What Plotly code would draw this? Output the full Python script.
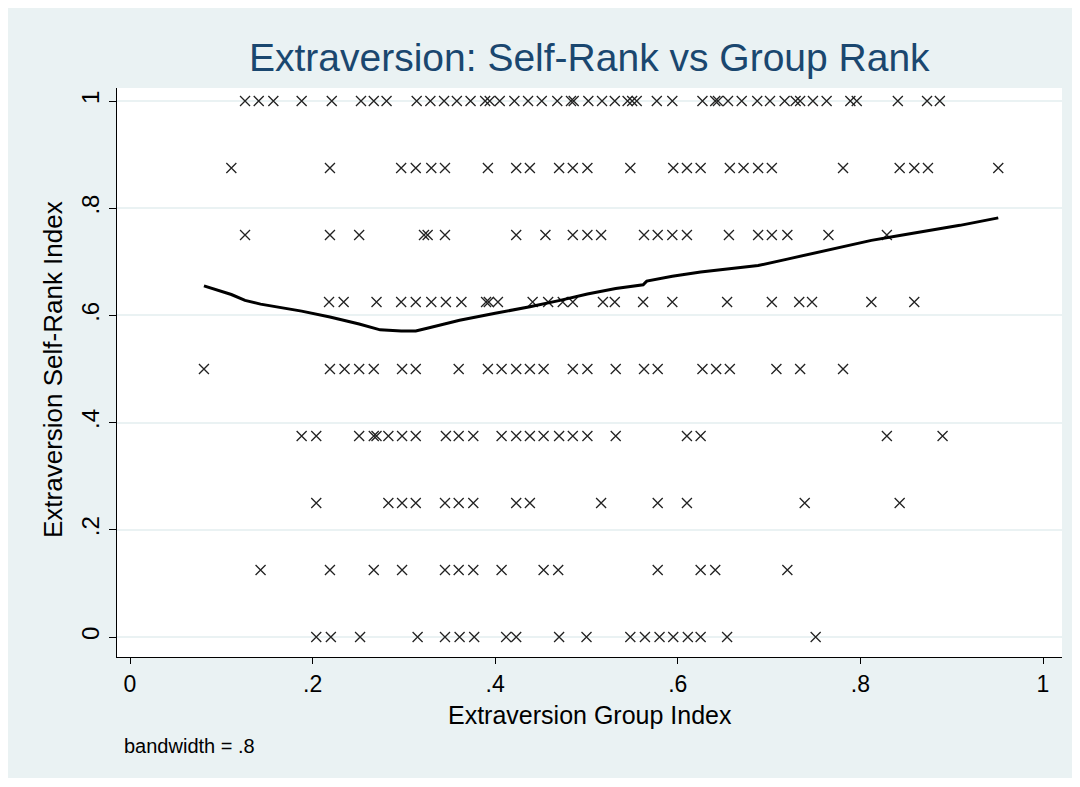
import plotly.graph_objects as go

# Self-rank levels (y) and the group-index values (x) observed at each level
self_rank_levels = [0.0, 0.125, 0.25, 0.375, 0.5, 0.625, 0.75, 0.875, 1.0]

group_at_000 = [.204, .220, .252, .315, .345, .361, .377, .412, .423, .470, .500,
                .548, .564, .580, .595, .611, .625, .654, .751]
group_at_125 = [.143, .219, .267, .298, .345, .360, .376, .407, .453, .469, .578,
                .625, .641, .720]
group_at_250 = [.204, .283, .298, .313, .345, .360, .376, .423, .438, .516, .578,
                .610, .739, .843]
group_at_375 = [.188, .204, .251, .267, .270, .283, .298, .313, .346, .360, .376,
                .407, .423, .438, .453, .470, .485, .501, .532, .610, .625, .829, .890]
group_at_500 = [.081, .219, .235, .251, .267, .298, .313, .360, .392, .407, .423,
                .438, .453, .485, .501, .532, .563, .578, .627, .642, .657, .708,
                .734, .781]
group_at_625 = [.218, .234, .270, .297, .313, .330, .346, .363, .390, .393, .403,
                .441, .458, .474, .485, .518, .531, .562, .594, .654, .703, .733,
                .747, .812, .859]
group_at_750 = [.126, .219, .251, .322, .326, .345, .423, .455, .485, .501, .516,
                .563, .578, .594, .610, .656, .688, .703, .720, .765, .829]
group_at_875 = [.111, .219, .297, .313, .330, .345, .392, .423, .438, .470, .485,
                .501, .548, .595, .610, .625, .657, .672, .688, .703, .781, .843,
                .859, .874, .951]
group_at_100 = [.126, .141, .157, .188, .221, .253, .267, .281, .314, .329, .344,
                .358, .373, .389, .394, .405, .421, .436, .451, .468, .483, .486,
                .502, .517, .531, .545, .550, .555, .577, .594, .627, .641, .644,
                .655, .670, .687, .701, .717, .729, .734, .748, .763, .789, .796,
                .841, .873, .887]

groups_by_level = [group_at_000, group_at_125, group_at_250, group_at_375,
                   group_at_500, group_at_625, group_at_750, group_at_875,
                   group_at_100]

# Lowess smooth (bandwidth .8)
lowess_x = [0.081, 0.111, 0.126, 0.143, 0.188, 0.219, 0.251, 0.274, 0.297,
            0.313, 0.330, 0.361, 0.400, 0.438, 0.471, 0.501, 0.532, 0.562,
            0.566, 0.594, 0.625, 0.657, 0.688, 0.720, 0.748, 0.781, 0.812,
            0.843, 0.874, 0.909, 0.951]
lowess_y = [0.655, 0.639, 0.628, 0.621, 0.608, 0.597, 0.584, 0.573, 0.571,
            0.571, 0.578, 0.591, 0.604, 0.616, 0.628, 0.640, 0.650, 0.657,
            0.664, 0.673, 0.681, 0.687, 0.693, 0.705, 0.716, 0.728, 0.740,
            0.749, 0.758, 0.768, 0.782]

x_ticks = [0, 0.2, 0.4, 0.6, 0.8, 1]
x_tick_text = ["0", ".2", ".4", ".6", ".8", "1"]
y_ticks = [0, 0.2, 0.4, 0.6, 0.8, 1]
y_tick_text = ["0", ".2", ".4", ".6", ".8", "1"]

FONT = "Arial, 'Liberation Sans', sans-serif"
NAVY = "#1a476f"

scatter_x, scatter_y = [], []
for level, xs in zip(self_rank_levels, groups_by_level):
    scatter_x.extend(xs)
    scatter_y.extend([level] * len(xs))

fig = go.Figure()
fig.add_trace(go.Scatter(
    x=scatter_x, y=scatter_y, mode="markers",
    marker=dict(symbol="x-thin", size=10, line=dict(width=1.3, color="#222222")),
    hoverinfo="x+y", showlegend=False,
))
fig.add_trace(go.Scatter(
    x=lowess_x, y=lowess_y, mode="lines",
    line=dict(color="black", width=3, shape="linear"),
    showlegend=False,
))

# plot area in pixels: x 117..1062, y 88..657
L, R, T, B = 117, 1062, 88, 657
W, H = 1080, 787
pw, ph = R - L, B - T


def px(xp):
    return (xp - L) / pw


def py(yp):
    return (B - yp) / ph


fig.update_layout(
    width=W, height=H,
    margin=dict(l=L, r=W - R, t=T, b=H - B, pad=0),
    paper_bgcolor="white",
    plot_bgcolor="rgba(0,0,0,0)",
    font=dict(family=FONT, color="black"),
    shapes=[
        dict(type="rect", xref="paper", yref="paper", layer="below",
             x0=px(8), x1=px(1072), y0=py(778), y1=py(8),
             fillcolor="#eaf2f3", line=dict(width=0)),
        dict(type="rect", xref="paper", yref="paper", layer="below",
             x0=0, x1=1, y0=0, y1=1,
             fillcolor="white", line=dict(width=0)),
    ],
    xaxis=dict(
        range=[(L - 130) / 913, (R - 130) / 913],
        tickmode="array", tickvals=x_ticks, ticktext=x_tick_text,
        ticks="outside", ticklen=6, tickwidth=1, tickcolor="black",
        showline=True, linecolor="black", linewidth=1,
        showgrid=False, zeroline=False,
        tickfont=dict(size=23, family=FONT, color="black"),
    ),
    yaxis=dict(
        range=[(637 - B) / 536, (637 - T) / 536],
        tickmode="array", tickvals=y_ticks, ticktext=y_tick_text,
        ticks="outside", ticklen=7, tickwidth=1, tickcolor="black",
        tickangle=-90,
        showline=True, linecolor="black", linewidth=1,
        showgrid=True, gridcolor="#eaf2f3", gridwidth=1.5,
        zeroline=False,
        tickfont=dict(size=24, family=FONT, color="black"),
    ),
    annotations=[
        dict(text="Extraversion: Self-Rank vs Group Rank", xref="paper", yref="paper",
             x=px(589), y=py(57), xanchor="center", yanchor="middle", showarrow=False,
             font=dict(size=39, family=FONT, color=NAVY)),
        dict(text="Extraversion Group Index", xref="paper", yref="paper",
             x=px(590), y=py(715), xanchor="center", yanchor="middle", showarrow=False,
             font=dict(size=25, family=FONT, color="black")),
        dict(text="Extraversion Self-Rank Index", xref="paper", yref="paper",
             x=px(53), y=py(370), xanchor="center", yanchor="middle", showarrow=False,
             textangle=-90, font=dict(size=26, family=FONT, color="black")),
        dict(text="bandwidth = .8", xref="paper", yref="paper",
             x=px(122), y=py(746), xanchor="left", yanchor="middle", showarrow=False,
             font=dict(size=20, family=FONT, color="black")),
    ],
)

fig.write_html("out.html")
